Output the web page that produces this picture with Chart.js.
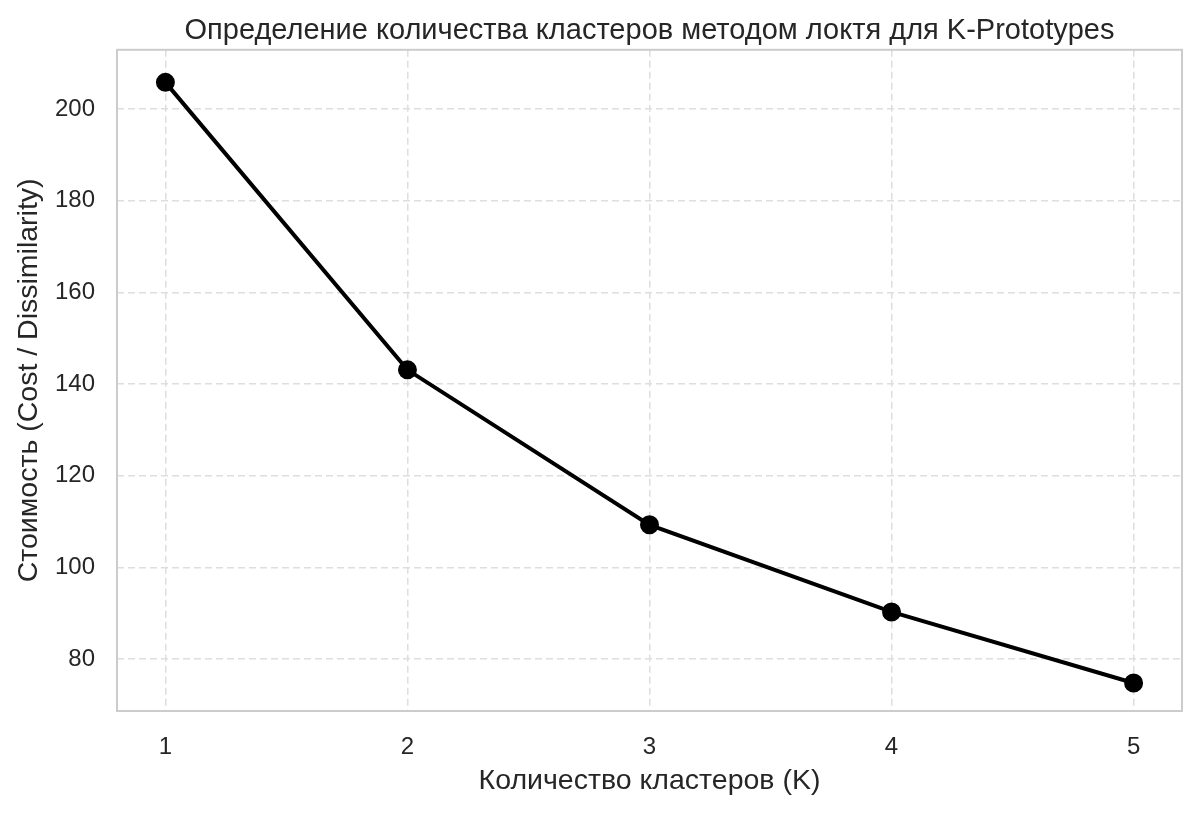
<!DOCTYPE html>
<html>
<head>
<meta charset="utf-8">
<title>Метод локтя K-Prototypes</title>
<script src="https://cdn.jsdelivr.net/npm/chart.js@4/dist/chart.umd.min.js"></script>
<style>
  html, body { margin: 0; padding: 0; background: #fff; }
  #wrap { width: 1198px; height: 813px; }
</style>
</head>
<body>
<div id="wrap"><canvas id="elbowChart"></canvas></div>
<script>
// Data
const kValues = [1, 2, 3, 4, 5];
const costValues = [205.8, 143.1, 109.3, 90.3, 74.8];
const yTicks = [80, 100, 120, 140, 160, 180, 200];

const chartTitle = 'Определение количества кластеров методом локтя для K-Prototypes';
const xTitle = 'Количество кластеров (K)';
const yTitle = 'Стоимость (Cost / Dissimilarity)';

const FONT = '"Liberation Sans", Arial, sans-serif';
const TEXT = '#262626';

// centre the title over the plot area, like matplotlib does
const titleOverPlot = {
    id: 'titleOverPlot',
    afterLayout(chart) {
        if (chart.titleBlock) {
            chart.titleBlock.left = chart.chartArea.left;
            chart.titleBlock.right = chart.chartArea.right;
        }
    }
};

// light grey frame on all four sides
const plotFrame = {
    id: 'plotFrame',
    beforeDatasetsDraw(chart) {
        const a = chart.chartArea;
        const ctx = chart.ctx;
        ctx.save();
        ctx.strokeStyle = '#cccccc';
        ctx.lineWidth = 2;
        ctx.strokeRect(a.left, a.top, a.right - a.left, a.bottom - a.top);
        ctx.restore();
    }
};

function buildChart() {
    const ctx = document.getElementById('elbowChart').getContext('2d');
    new Chart(ctx, {
        type: 'line',
        data: {
            datasets: [{
                label: 'Cost',
                data: kValues.map((k, i) => ({ x: k, y: costValues[i] })),
                borderColor: '#000000',
                backgroundColor: '#000000',
                borderWidth: 4,
                pointRadius: 7.5,
                pointHoverRadius: 7.5,
                fill: false,
                tension: 0
            }]
        },
        options: {
            responsive: true,
            maintainAspectRatio: false,
            animation: false,
            layout: { padding: { left: 0, right: 16, top: 0, bottom: 0 } },
            plugins: {
                legend: { display: false },
                tooltip: { enabled: false },
                title: {
                    display: true,
                    text: chartTitle,
                    color: TEXT,
                    font: { family: FONT, size: 29, weight: 'normal' },
                    padding: { top: 14, bottom: 1 }
                }
            },
            scales: {
                x: {
                    type: 'linear',
                    min: 0.8,
                    max: 5.2,
                    afterBuildTicks: s => { s.ticks = kValues.map(v => ({ value: v })); },
                    afterFit: s => { s.height = 102; },
                    grid: { color: '#dedede', lineWidth: 1.5, drawTicks: false },
                    border: { display: false, dash: [7, 4] },
                    ticks: {
                        color: TEXT,
                        padding: 22,
                        font: { family: FONT, size: 24 }
                    },
                    title: {
                        display: true,
                        text: xTitle,
                        color: TEXT,
                        font: { family: FONT, size: 28.5 },
                        padding: { top: 0, bottom: 15 }
                    }
                },
                y: {
                    min: 68.7,
                    max: 212.9,
                    afterBuildTicks: s => { s.ticks = yTicks.map(v => ({ value: v })); },
                    afterFit: s => { s.width = 117; },
                    grid: { color: '#dedede', lineWidth: 1.5, drawTicks: false },
                    border: { display: false, dash: [7, 4] },
                    ticks: {
                        color: TEXT,
                        padding: 22,
                        font: { family: FONT, size: 24 }
                    },
                    title: {
                        display: true,
                        text: yTitle,
                        color: TEXT,
                        font: { family: FONT, size: 28.5 },
                        padding: { top: 12, bottom: 0 }
                    }
                }
            }
        },
        plugins: [titleOverPlot, plotFrame]
    });
}

window.onload = buildChart;
</script>
</body>
</html>
